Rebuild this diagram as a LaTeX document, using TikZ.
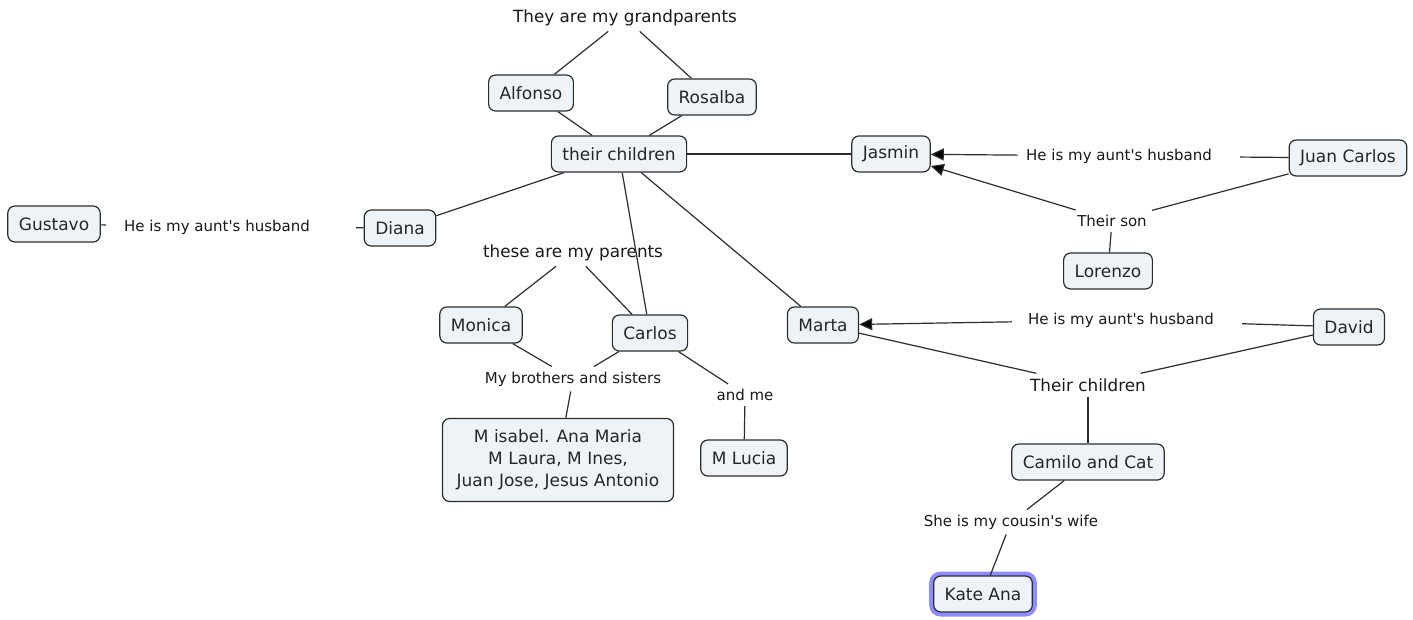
\documentclass[tikz,border=0pt]{standalone}
\usepackage{fontspec}
\setmainfont{DejaVu Sans}
\usetikzlibrary{arrows.meta}
\definecolor{cfill}{RGB}{237,243,246}
\definecolor{cline}{RGB}{45,45,45}
\definecolor{glow}{RGB}{140,140,255}

\begin{document}
\begin{tikzpicture}[x=1pt, y=-1pt,
    concept/.style={draw=cline, line width=1.2pt, rounded corners=7pt, fill=cfill,
      text=black!85, font=\fontsize{17}{21}\selectfont, inner xsep=11pt,
      minimum height=36pt, align=center},
    phrase/.style={text=black!90, font=\fontsize{16.8}{20}\selectfont, inner sep=5pt},
    smallphrase/.style={text=black!90, font=\fontsize{15}{18}\selectfont, inner sep=5pt},
    link/.style={draw=cline, line width=1.2pt},
    arrow/.style={link, -{Triangle[length=13pt,width=12pt,fill=black]}},
    chosen/.style={concept, preaction={draw=glow, line width=9pt}}]
    \path[use as bounding box, fill=white] (0,0) rectangle (1413,619);

    % grandparents and their children
    \node[phrase] (grand) at (625,18) {They are my grandparents};
    \node[concept] (alfonso) at (531,93) {Alfonso};
    \node[concept] (rosalba) at (712,97) {Rosalba};
    \node[concept] (tchild) at (619,154) {their children};

    % aunts and uncles
    \node[concept] (jasmin) at (891,154) {Jasmin};
    \node[concept] (juanc) at (1348,158) {Juan Carlos};
    \node[smallphrase, inner xsep=28pt] (husb1) at (1119,156) {He is my aunt\textquotesingle s husband};
    \node[smallphrase] (son) at (1112,221) {Their son};
    \node[concept] (lorenzo) at (1108,271) {Lorenzo};

    \node[concept] (gustavo) at (54,224) {Gustavo};
    \node[smallphrase, inner xsep=18pt] (husb2) at (217,227) {He is my aunt\textquotesingle s husband};
    \node[concept] (diana) at (400,228) {Diana};

    \node[concept] (marta) at (823,325) {Marta};
    \node[concept] (david) at (1349,327) {David};
    \node[smallphrase, inner xsep=28pt] (husb3) at (1121,320) {He is my aunt\textquotesingle s husband};
    \node[phrase] (tchild2) at (1088,385) {Their children};
    \node[concept] (camilo) at (1088,462) {Camilo and Cat};
    \node[smallphrase] (wife) at (1011,522) {She is my cousin\textquotesingle s wife};
    \node[chosen] (kate) at (983,594) {Kate Ana};

    % parents
    \node[phrase] (parents) at (573,253) {these are my parents};
    \node[concept] (monica) at (481,325) {Monica};
    \node[concept] (carlos) at (650,333) {Carlos};
    \node[smallphrase] (brothers) at (573,379) {My brothers and sisters};
    \node[concept, minimum height=83pt, minimum width=231pt] (siblings) at (558,460)
      {M isabel. Ana Maria\\[1pt]M Laura, M Ines,\\[1pt]Juan Jose, Jesus Antonio};
    \node[smallphrase] (andme) at (745,395) {and me};
    \node[concept] (lucia) at (744,458) {M Lucia};

    % connectors
    \draw[link] (grand) -- (alfonso);
    \draw[link] (grand) -- (rosalba);
    \draw[link] (alfonso) -- (tchild);
    \draw[link] (rosalba) -- (tchild);
    \draw[link] (tchild) -- (jasmin);
    \draw[link] (tchild) -- (diana);
    \draw[link] (tchild) -- (carlos);
    \draw[link] (tchild) -- (marta);

    \draw[link] (juanc) -- (husb1);
    \draw[arrow, shorten <=-20pt] (husb1) -- (jasmin);
    \draw[link] (juanc) -- (son);
    \draw[arrow] (son) -- (jasmin);
    \draw[link] (son) -- (lorenzo);

    \draw[link] (gustavo) -- (husb2);
    \draw[link, shorten <=28pt] (husb2) -- (diana);

    \draw[link] (david) -- (husb3);
    \draw[arrow, shorten <=-12pt] (husb3) -- (marta);
    \draw[link] (marta) -- (tchild2);
    \draw[link] (david) -- (tchild2);
    \draw[link] (tchild2) -- (camilo);
    \draw[link] (camilo) -- (wife);
    \draw[link] (wife) -- (kate);

    \draw[link] (parents) -- (monica);
    \draw[link] (parents) -- (carlos);
    \draw[link] (monica) -- (brothers);
    \draw[link] (carlos) -- (brothers);
    \draw[link] (brothers) -- (siblings);
    \draw[link] (carlos) -- (andme);
    \draw[link] (andme) -- (lucia);
\end{tikzpicture}
\end{document}
